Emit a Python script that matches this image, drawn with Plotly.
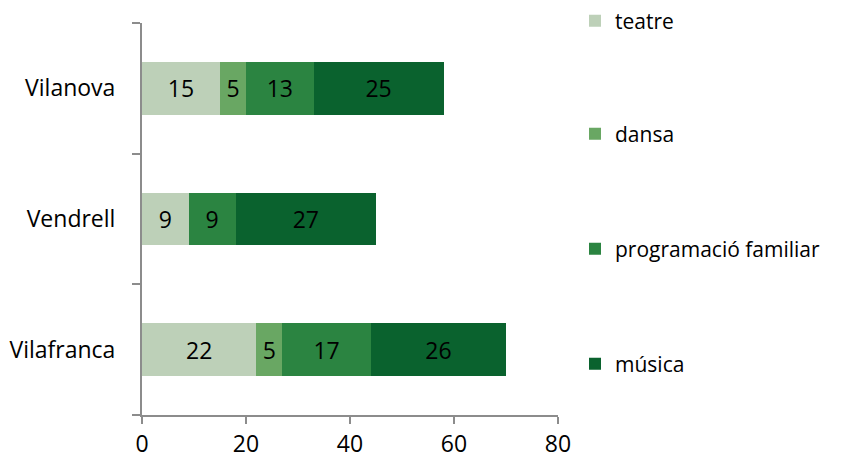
import plotly.graph_objects as go

categories = ["Vilafranca", "Vendrell", "Vilanova"]
series_names = ["teatre", "dansa", "programació familiar", "música"]
teatre = [22, 9, 15]
dansa = [5, 0, 5]
programacio = [17, 9, 13]
musica = [26, 27, 25]
x_ticks = [0, 20, 40, 60, 80]

colors = ["#BDD0B8", "#69A763", "#2B8441", "#0A622E"]
series_values = [teatre, dansa, programacio, musica]

FONT = "'Open Sans', sans-serif"
FS = 23
LFS = 21
W, H = 844, 464
OFF = 8  # page body offset
legend_y_px = [21, 134, 249, 364]

fig = go.Figure()
for i, (name, vals) in enumerate(zip(series_names, series_values)):
    lg = "legend" if i == 0 else f"legend{i+1}"
    fig.add_trace(go.Bar(
        y=categories, x=vals, name=name, orientation="h",
        marker=dict(color=colors[i], line=dict(width=0)),
        text=[str(v) if v else "" for v in vals],
        textposition="inside", insidetextanchor="middle",
        textfont=dict(color="black", size=FS, family=FONT),
        constraintext="none",
        legend=lg,
    ))

layout_legends = {}
for i, ypx in enumerate(legend_y_px):
    key = "legend" if i == 0 else f"legend{i+1}"
    layout_legends[key] = dict(
        xref="container", yref="container",
        x=(615 - 40 - OFF) / W, y=1 - (ypx - OFF) / H,
        xanchor="left", yanchor="middle",
        font=dict(size=LFS, family=FONT, color="black"),
        bgcolor="rgba(0,0,0,0)", itemwidth=30,
    )

fig.update_layout(
    width=W, height=H,
    margin=dict(l=142 - OFF, r=W - (558 - OFF), t=23 - OFF, b=H - (415 - OFF), autoexpand=False),
    barmode="stack", bargap=0.595,
    plot_bgcolor="white", paper_bgcolor="white",
    font=dict(family=FONT, size=FS, color="black"),
    showlegend=True,
    xaxis=dict(
        range=[0, 80], tickvals=x_ticks, showgrid=False, zeroline=False,
        showline=True, linecolor="#8C8C8C", linewidth=2,
        ticks="outside", ticklen=7, tickcolor="#8C8C8C", tickwidth=2,
        tickfont=dict(size=FS, family=FONT, color="black"),
        automargin=False,
    ),
    yaxis=dict(
        categoryorder="array", categoryarray=categories,
        showgrid=False, zeroline=False,
        showline=True, linecolor="#8C8C8C", linewidth=2,
        ticks="outside", ticklen=8, tickcolor="#8C8C8C", tickwidth=2,
        tickson="boundaries",
        tickfont=dict(size=FS, family=FONT, color="black"),
        ticklabelstandoff=20,
        automargin=False,
    ),
    **layout_legends,
)

fig.write_html("out.html")
